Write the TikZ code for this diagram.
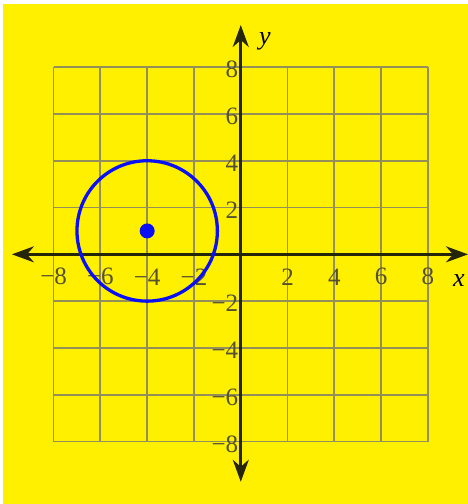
\documentclass[tikz,border=0pt]{standalone}
\usepackage{fontspec}
\setmainfont{Liberation Serif}
\usetikzlibrary{arrows.meta, positioning}
\definecolor{paper}{HTML}{FFF000}
\definecolor{gridline}{HTML}{948E58}
\definecolor{ticktext}{HTML}{555030}
\definecolor{axisdark}{HTML}{25250A}
\definecolor{circleblue}{HTML}{0A10F5}

\begin{document}
\begin{tikzpicture}[
    x=23.4pt, y=23.4pt,
    >={Stealth[length=22pt, width=16pt, inset=7pt]},
    font=\fontsize{25}{25}\selectfont,
    every node/.style={inner sep=0pt},
    gridstyle/.style={draw=gridline, line width=1.8pt},
    axisline/.style={<->, line width=2.6pt, axisdark},
    xtick/.style={text=ticktext, anchor=center},
    ytick/.style={text=ticktext, anchor=east},
    axislabel/.style={font=\fontsize{26}{26}\selectfont\itshape, text=black},
    ringstyle/.style={draw=circleblue, line width=3.3pt},
]

% === Page and background ===
\fill[white] (-10.29,-10.67) rectangle (9.71,10.87);
\fill[paper] (-10.16,-10.67) rectangle (9.71,10.70);
\useasboundingbox (-10.29,-10.67) rectangle (9.71,10.87);

% === Grid ===
\draw[gridstyle] (-8,-8) grid[step=2] (8,8);

% === Tick labels ===
\foreach \v/\t in {-8/−8, -6/−6, -4/−4, -2/−2, 2/2, 4/4, 6/6, 8/8} {
    \node[xtick] (xl\v) at (\v,-0.96) {\t};
    \node[ytick] (yl\v) at (-0.1,\v-0.1) {\t};
}

% === Axes ===
\coordinate (xmin) at (-9.78,0);
\coordinate (xmax) at (9.71,0);
\coordinate (ymin) at (0,-9.72);
\coordinate (ymax) at (0,9.80);
\draw[axisline] (xmin) -- (xmax);
\draw[axisline] (ymin) -- (ymax);
\node[axislabel] (xname) at (9.32,-1.12) {x};
\node[axislabel] (yname) at (1.03,9.12) {y};

% === Circle with centre (-4,1), radius 3 ===
\coordinate (ctr) at (-4,1);
\draw[ringstyle] (ctr) circle[radius=3];
\fill[circleblue] (ctr) circle[radius=7.5pt];

\end{tikzpicture}
\end{document}
